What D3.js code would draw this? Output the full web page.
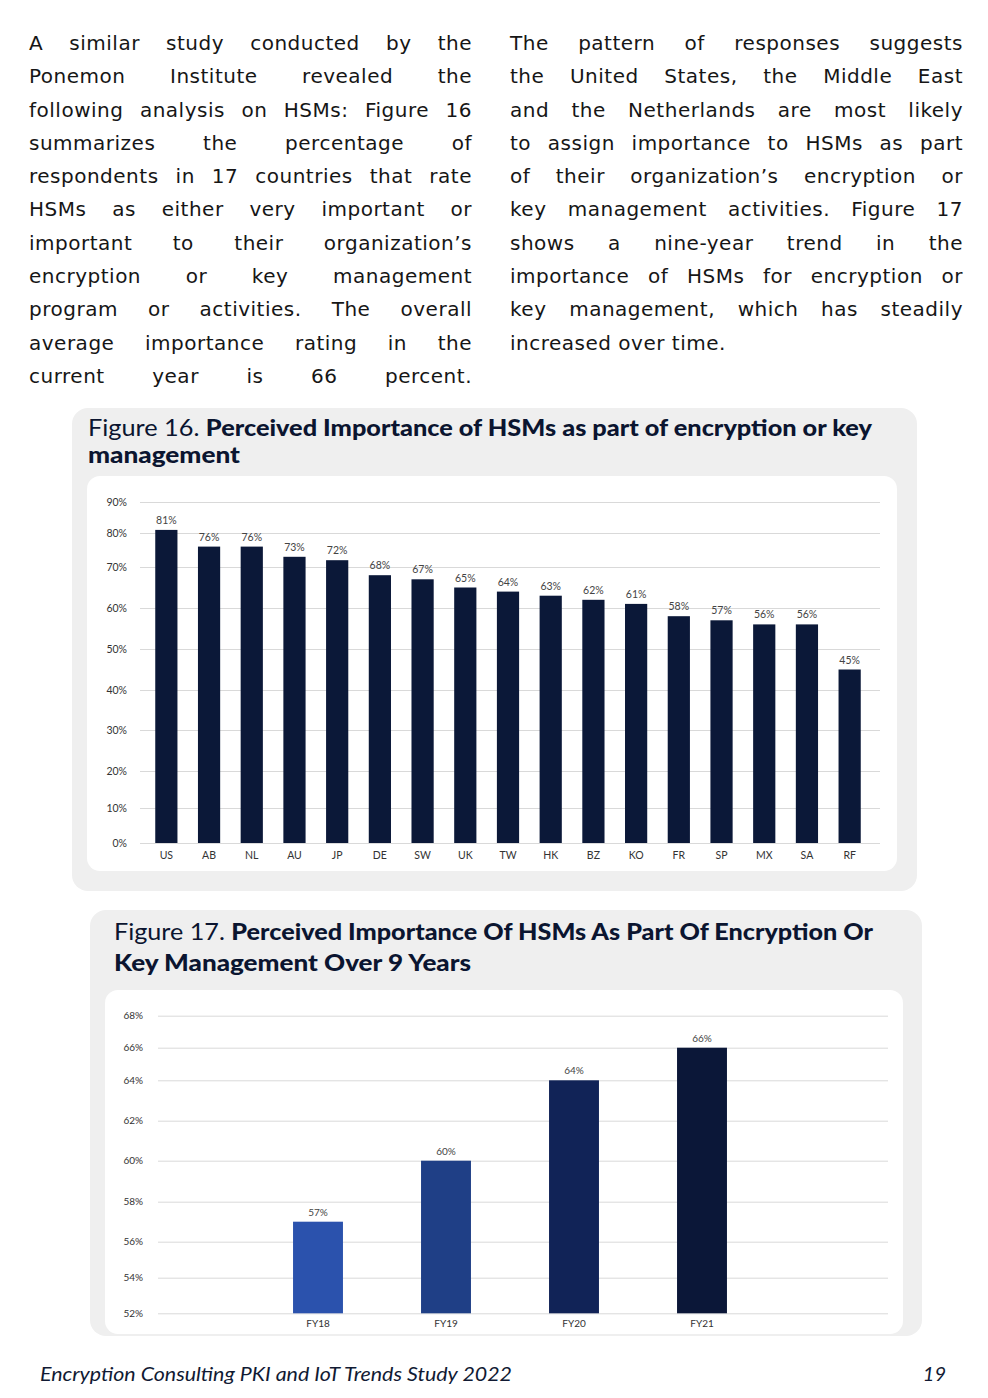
<!DOCTYPE html>
<html>
<head>
<meta charset="utf-8">
<script src="https://cdn.jsdelivr.net/npm/d3@7"></script>
<style>
  html, body { margin: 0; padding: 0; background: #fff; }
  body { width: 988px; height: 1398px; position: relative; overflow: hidden; }
  svg { position: absolute; left: 0; top: 0; }
  .col { position: absolute; top: 27px; font-family: "DejaVu Sans", sans-serif; font-size: 20px; letter-spacing: 0.5px; color: #161616; }
  .col div { height: 33.3px; line-height: 33.3px; white-space: nowrap; }
  .col span { white-space: nowrap; }
</style>
</head>
<body>
<div class="col" id="leftCol" style="left:29px; width:443px;"></div>
<div class="col" id="rightCol" style="left:510px; width:453px;"></div>
<svg id="page" width="988" height="1398"></svg>
<script>
// ---------- data ----------
const leftLines = [
  "A similar study conducted by the",
  "Ponemon Institute revealed the",
  "following analysis on HSMs: Figure 16",
  "summarizes the percentage of",
  "respondents in 17 countries that rate",
  "HSMs as either very important or",
  "important to their organization’s",
  "encryption or key management",
  "program or activities. The overall",
  "average importance rating in the",
  "current year is 66 percent."
];
const rightLines = [
  "The pattern of responses suggests",
  "the United States, the Middle East",
  "and the Netherlands are most likely",
  "to assign importance to HSMs as part",
  "of their organization’s encryption or",
  "key management activities. Figure 17",
  "shows a nine-year trend in the",
  "importance of HSMs for encryption or",
  "key management, which has steadily",
  "increased over time."
];
const countries16 = ["US","AB","NL","AU","JP","DE","SW","UK","TW","HK","BZ","KO","FR","SP","MX","SA","RF"];
const values16 = [81,76,76,73,72,68,67,65,64,63,62,61,58,57,56,56,45];
const ticks16 = [0,10,20,30,40,50,60,70,80,90];

const years17 = ["FY18","FY19","FY20","FY21"];
const values17 = [57,60,64,66];
const colors17 = ["#2b52ad","#1f3f86","#112357","#0b1738"];
const ticks17 = [52,54,56,58,60,62,64,66,68];

const title16 = [["Figure 16. ", "Perceived Importance of HSMs as part of encryption or key"], ["", "management"]];
const title17 = [["Figure 17. ", "Perceived Importance Of HSMs As Part Of Encryption Or"], ["", "Key Management Over 9 Years"]];
const footerText = "Encryption Consulting PKI and IoT Trends Study 2022";
const pageNumber = "19";

// ---------- body text (justified line by line) ----------
function column(sel, lines, width, lastLeft) {
  d3.select(sel).selectAll("div").data(lines).join("div")
    .append("span").text(d => d)
    .each(function(d, i) {
      const justify = !(lastLeft && i === lines.length - 1);
      const w = this.getBoundingClientRect().width;
      const n = (d.match(/ /g) || []).length;
      if (justify && n > 0) d3.select(this).style("word-spacing", ((width - w) / n) + "px");
    });
}
column("#leftCol", leftLines, 443, false);
column("#rightCol", rightLines, 453, true);

const svg = d3.select("#page");
const navy = "#0b1838";
const labelFont = "Lato, 'Open Sans', sans-serif";

// ---------- panels ----------
function panel(x, y, w, h, ix, iy, iw, ih) {
  svg.append("rect").attr("x", x).attr("y", y).attr("width", w).attr("height", h)
    .attr("rx", 16).attr("fill", "#efefef");
  svg.append("rect").attr("x", ix).attr("y", iy).attr("width", iw).attr("height", ih)
    .attr("rx", 13).attr("fill", "#ffffff");
}
panel(72, 408, 845, 483, 87, 476, 810, 395);
panel(90, 910, 832, 426, 105, 990, 798, 344);

function title(lines, x, y0, lh, size, widths) {
  lines.forEach((ln, i) => {
    const tt = svg.append("text").attr("x", x).attr("y", y0 + i * lh)
      .attr("font-family", labelFont).attr("font-size", size).attr("fill", "#0b1530")
      .attr("textLength", widths[i]).attr("lengthAdjust", "spacingAndGlyphs");
    if (ln[0]) tt.append("tspan").attr("font-weight", 400).text(ln[0]);
    tt.append("tspan").attr("font-weight", 900).text(ln[1]);
  });
}
title(title16, 88, 436, 27, 23, [784, 152]);
title(title17, 114, 940, 31, 23.5, [759, 357]);

// ---------- Figure 16 ----------
{
  const base = 843;
  const gridStops = [0, 35, 72, 113, 153, 194, 235, 276, 310, 341]; // px above baseline for each tick (layout)
  const y = d3.scaleLinear().domain(ticks16).range(gridStops.map(s => base - s));
  const x = d3.scaleBand().domain(countries16).range([145, 871]).paddingInner(0.48).paddingOuter(0.24);
  const g = svg.append("g");

  const yAxis = d3.axisLeft(y).tickValues(ticks16).tickSize(-(880 - 140)).tickFormat(d => d + "%");
  const ga = g.append("g").attr("transform", "translate(140,0)").call(yAxis);
  ga.select(".domain").remove();
  ga.selectAll(".tick line").attr("stroke", "#d9d9d9").attr("stroke-width", 1);
  ga.selectAll(".tick text").attr("x", -13).attr("font-family", labelFont).attr("font-size", 10.5).attr("fill", "#333");

  g.selectAll("rect.bar").data(values16).join("rect").attr("class", "bar")
    .attr("x", (d, i) => x(countries16[i])).attr("width", x.bandwidth())
    .attr("y", d => y(d)).attr("height", d => y(0) - y(d)).attr("fill", navy);

  g.selectAll("text.val").data(values16).join("text").attr("class", "val")
    .attr("x", (d, i) => x(countries16[i]) + x.bandwidth() / 2).attr("y", d => y(d) - 6)
    .attr("text-anchor", "middle").attr("font-family", labelFont).attr("font-size", 10.5).attr("fill", "#444")
    .text(d => d + "%");

  const xAxis = d3.axisBottom(x).tickSize(0).tickPadding(9);
  const gx = g.append("g").attr("transform", `translate(0,${base})`).call(xAxis);
  gx.select(".domain").remove();
  gx.selectAll(".tick text").attr("font-family", labelFont).attr("font-size", 10.5).attr("fill", "#333");
}

// ---------- Figure 17 ----------
{
  const base = 1313.3;
  const gridStops = [0, 35.6, 71.6, 111.6, 152.6, 192.6, 233, 265.6, 297.6]; // layout
  const y = d3.scaleLinear().domain(ticks17).range(gridStops.map(s => base - s));
  const x = d3.scaleBand().domain(years17).range([254, 766]).paddingInner(0.61).paddingOuter(0.305);
  const g = svg.append("g");

  const yAxis = d3.axisLeft(y).tickValues(ticks17).tickSize(-(888 - 158)).tickFormat(d => d + "%");
  const ga = g.append("g").attr("transform", "translate(158,0)").call(yAxis);
  ga.select(".domain").remove();
  ga.selectAll(".tick line").attr("stroke", "#d9d9d9").attr("stroke-width", 1);
  ga.selectAll(".tick text").attr("x", -15).attr("font-family", labelFont).attr("font-size", 10).attr("fill", "#333");

  g.selectAll("rect.bar").data(values17).join("rect").attr("class", "bar")
    .attr("x", (d, i) => x(years17[i])).attr("width", x.bandwidth())
    .attr("y", d => y(d)).attr("height", d => base - y(d)).attr("fill", (d, i) => colors17[i]);

  g.selectAll("text.val").data(values17).join("text").attr("class", "val")
    .attr("x", (d, i) => x(years17[i]) + x.bandwidth() / 2).attr("y", d => y(d) - 6)
    .attr("text-anchor", "middle").attr("font-family", labelFont).attr("font-size", 10).attr("fill", "#444")
    .text(d => d + "%");

  const xAxis = d3.axisBottom(x).tickSize(0).tickPadding(7);
  const gx = g.append("g").attr("transform", `translate(0,${base})`).call(xAxis);
  gx.select(".domain").remove();
  gx.selectAll(".tick text").attr("font-family", labelFont).attr("font-size", 10).attr("fill", "#333");
}

// ---------- footer ----------
svg.append("text").attr("x", 40).attr("y", 1381).attr("font-family", labelFont).attr("font-style", "italic")
  .attr("font-size", 20).attr("fill", "#111a33")
  .attr("textLength", 472).attr("lengthAdjust", "spacingAndGlyphs").text(footerText);
svg.append("text").attr("x", 946).attr("y", 1381).attr("text-anchor", "end").attr("font-family", labelFont)
  .attr("font-style", "italic").attr("font-size", 20).attr("fill", "#111a33").text(pageNumber);
</script>
</body>
</html>
